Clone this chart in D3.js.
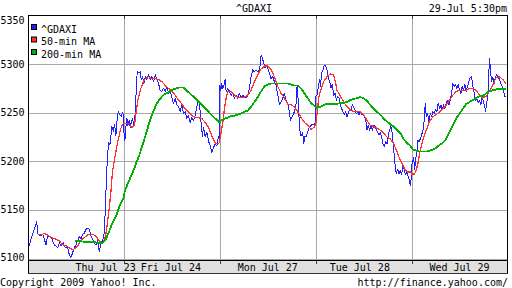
<!DOCTYPE html>
<html>
<head>
<meta charset="utf-8">
<script src="https://cdn.jsdelivr.net/npm/d3@7"></script>
<style>
  html, body { margin: 0; padding: 0; background: #fff; }
  svg { display: block; }
  text { font-family: "DejaVu Sans Mono", monospace; font-size: 10px; fill: #000; }
</style>
</head>
<body>
<div id="chart"></div>
<script>
// ---------- data ----------
const title = "^GDAXI";
const stamp = "29-Jul 5:30pm";
const days = ["Thu Jul 23", "Fri Jul 24", "Mon Jul 27", "Tue Jul 28", "Wed Jul 29"];
const dayLabelAt = [0.81, 1.49, 2.5, 3.46, 4.5];   // where each day label sits, in days
const yTicks = [5100, 5150, 5200, 5250, 5300, 5350];
const seriesNames = ["^GDAXI", "50-min MA", "200-min MA"];
const SLOTS = 288;  // time slots per trading session

// [slot, value] per day
const gdaxi = [
  [[0,5125],[4,5113],[9,5120],[14,5125],[22,5133],[26,5138],[30,5125],[36,5123],[44,5125],[49,5120],[54,5114],[59,5123],[66,5123],[72,5120],[79,5114],[84,5113],[89,5111],[94,5116],[99,5113],[106,5116],[112,5111],[119,5111],[124,5104],[129,5101],[134,5106],[139,5111],[144,5114],[149,5118],[154,5123],[159,5120],[164,5125],[169,5126],[174,5130],[179,5131],[184,5130],[189,5123],[194,5120],[199,5116],[204,5114],[209,5118],[214,5107],[219,5116],[224,5118],[229,5126],[232,5149],[236,5186],[239,5207],[242,5219],[246,5217],[252,5236],[256,5231],[260,5238],[264,5226],[267,5241],[271,5251],[276,5248],[280,5246],[284,5250],[288,5247]],
  [[0,5230],[3,5221],[6,5235],[9,5244],[12,5237],[16,5242],[19,5235],[22,5240],[26,5244],[30,5237],[34,5249],[37,5273],[40,5292],[44,5291],[49,5292],[52,5284],[56,5287],[60,5280],[64,5287],[69,5284],[74,5289],[79,5284],[84,5287],[89,5282],[94,5289],[99,5284],[104,5280],[109,5273],[114,5272],[119,5275],[124,5272],[129,5277],[134,5270],[139,5272],[144,5266],[149,5259],[154,5265],[159,5258],[164,5256],[169,5251],[174,5259],[179,5249],[184,5251],[189,5244],[194,5247],[199,5240],[204,5245],[209,5242],[214,5247],[219,5256],[224,5263],[229,5252],[232,5239],[236,5226],[239,5235],[244,5225],[249,5230],[254,5221],[259,5216],[264,5209],[269,5214],[274,5218],[279,5216],[284,5225],[288,5221]],
  [[0,5278],[3,5273],[6,5280],[9,5275],[12,5277],[16,5284],[19,5272],[24,5275],[29,5272],[34,5268],[39,5270],[44,5265],[49,5268],[54,5265],[59,5270],[64,5265],[69,5268],[74,5266],[79,5265],[84,5268],[89,5275],[94,5287],[99,5294],[104,5292],[109,5294],[114,5292],[119,5294],[122,5301],[124,5309],[128,5306],[132,5301],[136,5296],[139,5299],[144,5296],[149,5291],[154,5285],[159,5287],[164,5282],[169,5278],[172,5272],[176,5265],[179,5258],[184,5261],[189,5265],[194,5270],[199,5263],[204,5259],[209,5251],[212,5242],[216,5245],[219,5247],[224,5251],[229,5259],[232,5277],[235,5265],[238,5245],[241,5230],[244,5226],[249,5230],[252,5218],[256,5226],[259,5225],[264,5230],[269,5235],[274,5237],[279,5238],[284,5238],[288,5240]],
  [[0,5267],[4,5268],[8,5277],[12,5284],[14,5277],[18,5291],[22,5294],[26,5299],[30,5298],[34,5294],[38,5286],[42,5282],[46,5275],[50,5279],[54,5268],[58,5270],[62,5263],[66,5267],[70,5265],[74,5258],[78,5254],[82,5251],[86,5248],[90,5251],[94,5246],[98,5249],[102,5254],[106,5253],[110,5258],[114,5256],[118,5253],[122,5249],[126,5251],[130,5248],[134,5251],[138,5248],[142,5249],[146,5246],[150,5244],[154,5232],[158,5237],[162,5232],[166,5236],[170,5232],[174,5237],[178,5236],[182,5232],[186,5230],[190,5227],[194,5230],[198,5225],[202,5218],[206,5215],[210,5220],[214,5218],[218,5227],[222,5232],[226,5236],[230,5229],[234,5213],[238,5198],[242,5187],[246,5192],[250,5187],[254,5191],[258,5186],[262,5196],[266,5191],[270,5186],[274,5189],[278,5184],[282,5180],[284,5175],[287,5182]],
  [[0,5195],[2,5198],[6,5204],[9,5192],[12,5201],[16,5211],[19,5222],[22,5220],[26,5223],[30,5227],[34,5232],[38,5242],[41,5260],[44,5246],[48,5249],[52,5241],[56,5249],[60,5246],[64,5251],[68,5249],[72,5253],[76,5251],[80,5260],[84,5254],[88,5258],[92,5253],[96,5258],[100,5254],[104,5260],[108,5263],[112,5258],[116,5263],[120,5270],[124,5280],[128,5277],[132,5279],[136,5275],[140,5279],[144,5273],[148,5270],[152,5277],[156,5273],[160,5279],[164,5272],[168,5277],[172,5282],[176,5286],[180,5287],[184,5277],[188,5270],[192,5263],[196,5265],[200,5260],[204,5263],[208,5258],[212,5267],[216,5261],[220,5256],[222,5251],[226,5261],[230,5270],[232,5291],[234,5306],[237,5294],[240,5282],[244,5286],[248,5280],[252,5287],[256,5289],[260,5287],[264,5284],[268,5280],[272,5277],[276,5272],[280,5267],[284,5267]]
];

const ma50 = [
  [[29,5125],[44,5125],[49,5126],[54,5125],[64,5123],[74,5121],[84,5120],[94,5118],[104,5114],[114,5113],[124,5111],[134,5109],[144,5111],[149,5113],[154,5116],[164,5120],[174,5123],[184,5125],[194,5125],[204,5123],[214,5118],[224,5116],[229,5118],[234,5125],[239,5138],[244,5152],[249,5169],[254,5190],[259,5200],[264,5210],[269,5219],[274,5227],[279,5234],[284,5238],[288,5239]],
  [[0,5239],[4,5239],[14,5239],[24,5235],[32,5237],[36,5249],[42,5263],[49,5273],[56,5280],[64,5285],[74,5287],[84,5285],[94,5285],[104,5284],[114,5282],[124,5278],[134,5275],[144,5272],[154,5268],[164,5263],[174,5259],[184,5254],[194,5251],[204,5247],[214,5245],[224,5245],[234,5244],[244,5240],[254,5235],[264,5226],[274,5219],[284,5218],[288,5220]],
  [[0,5222],[2,5226],[9,5240],[14,5254],[19,5265],[24,5272],[29,5272],[34,5272],[44,5268],[54,5266],[64,5266],[74,5266],[84,5268],[94,5273],[104,5282],[114,5289],[124,5295],[134,5298],[144,5298],[154,5294],[164,5287],[174,5277],[184,5270],[194,5265],[204,5259],[214,5258],[224,5256],[234,5251],[244,5245],[254,5240],[264,5237],[274,5233],[284,5235],[288,5238]],
  [[0,5238],[4,5249],[9,5265],[14,5272],[24,5282],[34,5287],[44,5290],[54,5289],[59,5282],[64,5273],[74,5267],[84,5261],[94,5256],[104,5253],[114,5251],[124,5251],[134,5251],[144,5248],[154,5242],[164,5237],[174,5236],[184,5234],[194,5232],[204,5229],[214,5225],[224,5223],[234,5218],[244,5210],[254,5201],[264,5194],[274,5189],[284,5189],[288,5188]],
  [[0,5187],[9,5187],[14,5191],[19,5198],[24,5208],[29,5215],[34,5222],[44,5232],[54,5241],[64,5246],[74,5248],[84,5251],[94,5254],[104,5258],[114,5263],[124,5268],[134,5272],[144,5273],[154,5273],[164,5273],[174,5275],[184,5275],[194,5273],[204,5268],[214,5265],[224,5267],[234,5272],[244,5279],[254,5286],[264,5287],[274,5284],[284,5280]]
];

const ma200 = [
  [[142,5118],[154,5118],[174,5117],[194,5117],[214,5116],[224,5116],[234,5120],[244,5128],[254,5137],[264,5143],[274,5153],[284,5160],[288,5163]],
  [[0,5166],[8,5174],[18,5182],[28,5190],[38,5199],[48,5208],[58,5219],[68,5230],[78,5242],[88,5251],[98,5259],[108,5264],[118,5268],[128,5270],[138,5272],[148,5274],[158,5275],[168,5276],[178,5276],[194,5271],[214,5265],[234,5258],[254,5251],[274,5244],[288,5240]],
  [[0,5242],[4,5242],[14,5244],[24,5245],[34,5247],[44,5247],[54,5248],[64,5249],[74,5251],[84,5252],[94,5256],[104,5261],[114,5266],[124,5272],[134,5277],[144,5279],[154,5280],[164,5280],[174,5280],[184,5280],[194,5280],[204,5280],[214,5279],[224,5278],[234,5278],[244,5275],[254,5270],[264,5265],[274,5260],[284,5257],[288,5256]],
  [[0,5256],[4,5255],[14,5256],[24,5258],[34,5259],[44,5259],[54,5259],[64,5259],[74,5260],[84,5260],[94,5261],[104,5263],[114,5264],[124,5265],[134,5266],[144,5265],[154,5262],[164,5258],[174,5254],[184,5251],[194,5248],[204,5244],[214,5241],[224,5238],[234,5236],[244,5232],[254,5229],[264,5223],[274,5219],[284,5216],[288,5214]],
  [[0,5214],[4,5212],[14,5211],[24,5210],[34,5210],[44,5210],[54,5211],[64,5212],[74,5214],[84,5217],[94,5219],[104,5223],[114,5230],[124,5237],[134,5244],[144,5249],[154,5254],[164,5259],[174,5261],[184,5263],[194,5265],[204,5267],[214,5267],[224,5270],[234,5272],[244,5273],[254,5274],[264,5274],[274,5274],[284,5274]]
];

const colors = ["#2020ff", "#ff3030", "#00b000"];

// ---------- chart ----------
const W = 512, H = 288;
const L = 28, R = 507.5, T = 15.5, B = 260.5, AXB = 273.5;

const svg = d3.select("#chart").append("svg").attr("width", W).attr("height", H);

const x = d3.scaleLinear().domain([0, days.length]).range([L, R]);
const y = d3.scaleLinear().domain([5100, 5350]).range([258.5, 15.5]);

const flat = s => s.flatMap((arr, d) => arr.map(([sl, v]) => ({ t: d + sl / SLOTS, v })));

// axis strip
svg.append("rect").attr("x", L).attr("y", B).attr("width", R - L).attr("height", AXB - B)
  .attr("fill", "#e0e0e0");

// horizontal grid
svg.append("g").selectAll("line").data(yTicks.filter(v => v < 5350)).join("line")
  .attr("x1", L).attr("x2", R)
  .attr("y1", d => Math.round(y(d)) + 0.5).attr("y2", d => Math.round(y(d)) + 0.5)
  .attr("stroke", "#a8a8a8").attr("stroke-width", 1).attr("shape-rendering", "crispEdges");

// vertical day separators
const seps = d3.range(1, days.length);
svg.append("g").selectAll("line").data(seps).join("line")
  .attr("x1", d => Math.round(x(d)) + 0.5).attr("x2", d => Math.round(x(d)) + 0.5)
  .attr("y1", T).attr("y2", B)
  .attr("stroke", "#a8a8a8").attr("stroke-width", 1).attr("shape-rendering", "crispEdges");
// small dark ticks
svg.append("g").selectAll("line").data(seps).join("line")
  .attr("x1", d => Math.round(x(d)) + 0.5).attr("x2", d => Math.round(x(d)) + 0.5)
  .attr("y1", B).attr("y2", B + 3)
  .attr("stroke", "#444").attr("shape-rendering", "crispEdges");
svg.append("g").selectAll("line").data(seps).join("line")
  .attr("x1", d => Math.round(x(d)) + 0.5).attr("x2", d => Math.round(x(d)) + 0.5)
  .attr("y1", T).attr("y2", T + 3)
  .attr("stroke", "#444").attr("shape-rendering", "crispEdges");

// series
const line = d3.line().x(d => x(d.t)).y(d => y(d.v));
const allSeries = [gdaxi, ma50, ma200];
const widths = [1, 1.25, 1.8];
allSeries.forEach((s, i) => {
  svg.append("path").datum(flat(s))
    .attr("d", line)
    .attr("fill", "none")
    .attr("stroke", colors[i])
    .attr("stroke-width", widths[i])
    .attr("stroke-linejoin", "round")
    .attr("shape-rendering", "crispEdges");
});

// frame
const frame = svg.append("g").attr("stroke", "#000").attr("shape-rendering", "crispEdges").attr("fill", "none");
frame.append("line").attr("x1", L + 0.5).attr("x2", L + 0.5).attr("y1", T).attr("y2", AXB);
frame.append("line").attr("x1", R - 0.5).attr("x2", R - 0.5).attr("y1", T).attr("y2", AXB);
frame.append("line").attr("x1", L).attr("x2", R).attr("y1", T).attr("y2", T);
frame.append("line").attr("x1", L).attr("x2", R).attr("y1", B).attr("y2", B);
frame.append("line").attr("x1", L).attr("x2", R).attr("y1", AXB).attr("y2", AXB).attr("stroke", "#333");

// y labels
svg.append("g").selectAll("text").data(yTicks).join("text")
  .attr("x", 24.5)
  .attr("y", d => Math.min(Math.max(y(d) + 3.5, 24), 261))
  .attr("text-anchor", "end")
  .text(d => d);

// day labels
svg.append("g").selectAll("text").data(days).join("text")
  .attr("x", (d, i) => x(dayLabelAt[i]))
  .attr("y", 270.5)
  .attr("text-anchor", "middle")
  .text(d => d);

// title & stamp
svg.append("text").attr("x", 254).attr("y", 11.5).attr("text-anchor", "middle").text(title);
svg.append("text").attr("x", 507).attr("y", 11.5).attr("text-anchor", "end").text(stamp);

// legend
const lg = svg.append("g");
seriesNames.forEach((n, i) => {
  lg.append("rect").attr("x", 31.5).attr("y", 24.5 + i * 12.5).attr("width", 5).attr("height", 5)
    .attr("fill", colors[i]).attr("stroke", "#000").attr("stroke-width", 1);
  lg.append("text").attr("x", 41).attr("y", 32.5 + i * 12.5).text(n);
});

// footer
svg.append("text").attr("x", 0).attr("y", 285.5).text("Copyright 2009 Yahoo! Inc.");
svg.append("text").attr("x", 508).attr("y", 285.5).attr("text-anchor", "end").text("http://finance.yahoo.com/");
</script>
</body>
</html>
